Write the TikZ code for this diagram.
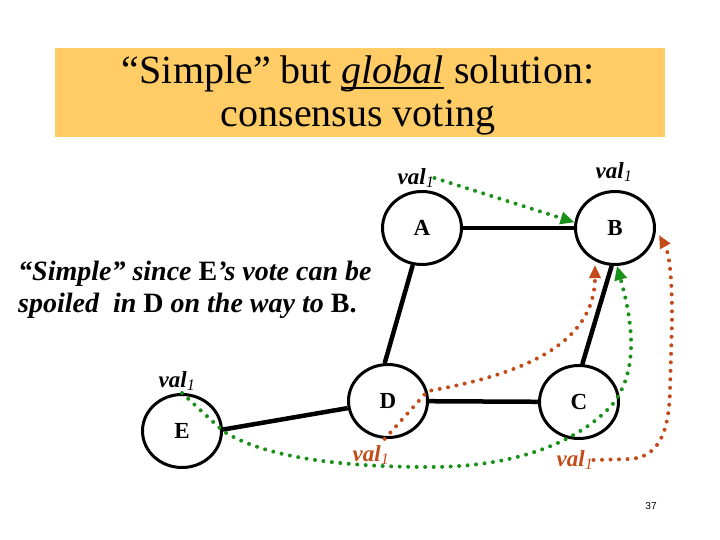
\documentclass[tikz,border=0pt]{standalone}
\usepackage{fontspec}
\setmainfont{Liberation Serif}
\newfontfamily\pnfont{Liberation Sans}
\usetikzlibrary{arrows.meta,shapes.geometric}
\definecolor{titlebg}{RGB}{255,204,102}
\definecolor{dotgreen}{RGB}{25,145,25}
\definecolor{dotrust}{RGB}{195,75,25}
\newcommand{\vallab}{\textbf{\textit{val}}\textsubscript{\itshape 1}}
\newsavebox{\ulbox}
\newcommand{\myul}[1]{\sbox{\ulbox}{#1}\rlap{\rule[-5.5pt]{\wd\ulbox}{2.5pt}}\usebox{\ulbox}}
\begin{document}
\begin{tikzpicture}[x=1pt,y=-1pt,
  vnode/.style={ellipse,draw,line width=3pt,minimum width=79pt,minimum height=73pt,inner sep=0pt,font=\fontsize{23}{26}\selectfont\bfseries},
  link/.style={line width=4.5pt},
  vlabel/.style={inner sep=0pt,font=\fontsize{23}{26}\selectfont},
  dotline/.style={line width=4pt,line cap=round,dash pattern=on 0pt off 8.5pt},
  gdots/.style={dotline,dotgreen,-{Triangle[length=14pt,width=12pt]}},
  rdots/.style={dotline,dotrust,-{Triangle[length=13pt,width=11pt]}},
]
\useasboundingbox (0,0) rectangle (720,540);
\node[fill=titlebg,minimum width=610pt,minimum height=89pt,inner sep=0pt] (title) at (360,92.5) {};
\node[anchor=base,inner sep=0pt,align=center,font=\fontsize{40}{43}\selectfont] (titletext) at (358,127)
  {“Simple” but \myul{\textit{global}} solution:\\consensus voting};

\node[vnode] (A) at (422,228) {A};
\node[vnode] (B) at (615,228) {B};
\node[vnode] (D) at (388,401) {D};
\node[vnode] (C) at (579,402) {C};
\node[vnode] (E) at (182,431) {E};

\draw[link] (A) -- (B);
\draw[link] (A.-104) -- (D.95);
\draw[link] (B.-95) -- (C.85);
\draw[link] (D) -- (C);
\draw[link] (E.2) -- (D.190);

\node[vlabel] (valA) at (416,178) {\vallab};
\node[vlabel] (valB) at (614,172) {\vallab};
\node[vlabel] (valE) at (177,381) {\vallab};
\node[vlabel,text=dotrust] (valD) at (371,455) {\vallab};
\node[vlabel,text=dotrust] (valC) at (575,460) {\vallab};

\node[anchor=base west,inner sep=0pt,align=left,font=\fontsize{28}{32}\selectfont\bfseries\itshape] (note) at (18,312)
  {“Simple” since \upshape E\itshape’s vote can be\\spoiled\ \ in \upshape D\itshape\ on the way to \upshape B.};

\node[font=\pnfont\fontsize{10}{12}\selectfont] (pg) at (651,506) {37};

\coordinate (gtip) at (B.-87);
\coordinate (rtip) at (595,265);
\coordinate (r2tip) at (659,235);

% green: A's value to B
\draw[gdots] (valA.east) -- (B.172);
% green: E's value via D and C to B
\draw[gdots] (E.north) -- (E.east) .. controls (260,455) and (330,467) .. (430,467)
  .. controls (520,467) and (580,440) .. (612,405)
  .. controls (640,370) and (632,320) .. (gtip);
% rust: D's value to B
\draw[rdots] (D.-95) -- (D.14) .. controls (520,375) and (595,345) .. (rtip);
% rust: C's value to B
\draw[rdots] (valC.east) -- (630,459) .. controls (660,457) and (669,430) .. (670,390)
  -- (672,320) .. controls (672,280) and (670,255) .. (r2tip);
\end{tikzpicture}
\end{document}
